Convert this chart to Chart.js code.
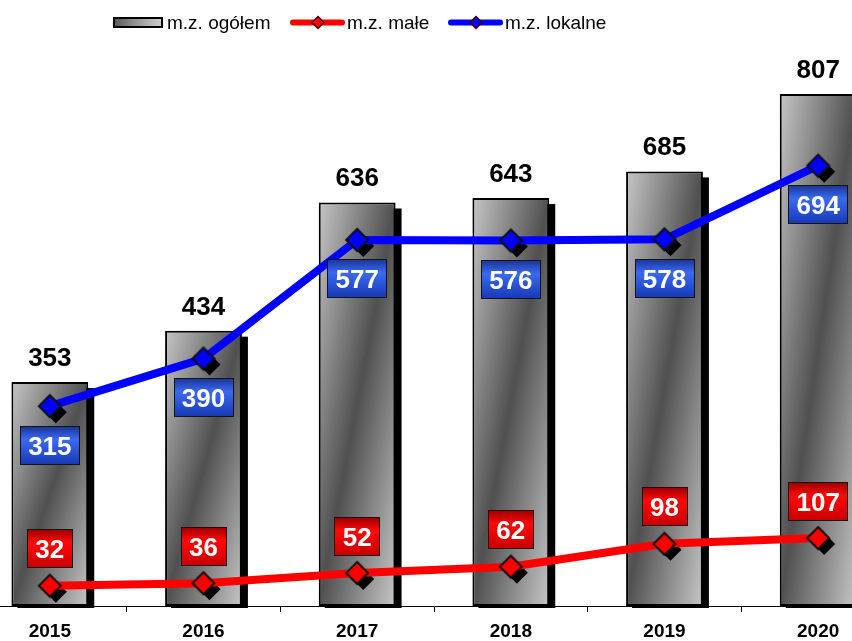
<!DOCTYPE html>
<html>
<head>
<meta charset="utf-8">
<script src="https://cdn.jsdelivr.net/npm/chart.js@4/dist/chart.umd.min.js"></script>
<style>
    html, body { margin: 0; padding: 0; background: #fff; overflow: hidden; }
    body { width: 852px; height: 641px; position: relative; }
    #wrap { position: absolute; left: -27px; top: 0; width: 922px; height: 641px; }
</style>
</head>
<body>
<div id="wrap"><canvas id="chart" width="922" height="641"></canvas></div>
<script>
// Data
const years = ['2015', '2016', '2017', '2018', '2019', '2020'];
const totalValues = [353, 434, 636, 643, 685, 807];
const smallValues = [32, 36, 52, 62, 98, 107];
const localValues = [315, 390, 577, 576, 578, 694];
const seriesNames = ['m.z. ogółem', 'm.z. małe', 'm.z. lokalne'];

// canvas sits 27px left of the page (first category is cut off)
const PAGE_SHIFT = 27;
const FONT = '"Liberation Sans", Arial, sans-serif';

// Diagonal grey gradient for each bar (light corners, dark diagonal)
function barFill(c) {
    const chart = c.chart;
    const area = chart.chartArea;
    if (!area || c.type !== 'data') return '#808080';
    const xs = chart.scales.x, ys = chart.scales.y;
    const w = area.width / years.length * 0.5;
    const x0 = xs.getPixelForValue(c.dataIndex) - w / 2;
    const y0 = ys.getPixelForValue(c.raw);
    const h = Math.max(area.bottom - y0, 1);
    const s = 2 * w * h / (h * h + w * w);
    const g = chart.ctx.createLinearGradient(x0, y0, x0 + s * h, y0 + s * w);
    g.addColorStop(0, '#c6c6c6');
    g.addColorStop(0.5, '#505050');
    g.addColorStop(1, '#c6c6c6');
    return g;
}

function diamondPath(ctx, cx, cy, r) {
    ctx.beginPath();
    ctx.moveTo(cx, cy - r);
    ctx.lineTo(cx + r, cy);
    ctx.lineTo(cx, cy + r);
    ctx.lineTo(cx - r, cy);
    ctx.closePath();
}

// Marker image used as pointStyle
function makeMarker(color, r) {
    const size = Math.ceil(2 * r + 6);
    const cv = document.createElement('canvas');
    cv.width = cv.height = size;
    const g = cv.getContext('2d');
    diamondPath(g, size / 2, size / 2, r);
    g.fillStyle = color;
    g.fill();
    g.lineWidth = 2;
    g.strokeStyle = '#111';
    g.stroke();
    return cv;
}

const redMarker = makeMarker('#ff0000', 11);
const blueMarker = makeMarker('#0000ff', 11);

// Shadows: black offset shapes drawn under bars and markers
const shadowPlugin = {
    id: 'shadows',
    beforeDatasetDraw(chart, args) {
        const ctx = chart.ctx;
        ctx.save();
        ctx.fillStyle = '#000';
        if (args.index === 0) {
            args.meta.data.forEach(bar => {
                const left = bar.x - bar.width / 2 + 6;
                ctx.fillRect(left, bar.y + 6, bar.width, bar.base - bar.y - 4);
            });
        } else {
            args.meta.data.forEach(pt => {
                diamondPath(ctx, pt.x + 6, pt.y + 6, 11);
                ctx.fill();
            });
        }
        ctx.restore();
    }
};

function drawTag(ctx, x, y, text, stops) {
    ctx.font = 'bold 26px ' + FONT;
    const w = Math.round(ctx.measureText(text).width + 17);
    const h = 39;
    const x0 = Math.round(x - w / 2), y0 = Math.round(y - h / 2);
    const g = ctx.createLinearGradient(0, y0, 0, y0 + h);
    stops.forEach(s => g.addColorStop(s[0], s[1]));
    ctx.fillStyle = g;
    ctx.fillRect(x0, y0, w, h);
    ctx.lineWidth = 1;
    ctx.strokeStyle = '#141414';
    ctx.strokeRect(x0 + 0.5, y0 + 0.5, w - 1, h - 1);
    ctx.fillStyle = '#fff';
    ctx.textAlign = 'center';
    ctx.textBaseline = 'alphabetic';
    ctx.fillText(text, x, y + 9.5);
}

const BLUE_STOPS = [[0, '#1a3296'], [0.35, '#3a6af0'], [1, '#1638b4']];
const RED_STOPS = [[0, '#9a0000'], [0.35, '#ff0808'], [1, '#c80000']];

// Value labels: above bars, tags under blue markers, tags over red markers
const labelPlugin = {
    id: 'valueLabels',
    afterDatasetsDraw(chart) {
        const ctx = chart.ctx;
        ctx.save();
        chart.getDatasetMeta(0).data.forEach((bar, i) => {
            ctx.font = 'bold 26px ' + FONT;
            ctx.fillStyle = '#000';
            ctx.textAlign = 'center';
            ctx.textBaseline = 'alphabetic';
            ctx.fillText(String(totalValues[i]), bar.x, bar.y - 16);
        });
        chart.getDatasetMeta(1).data.forEach((pt, i) => {
            drawTag(ctx, pt.x, pt.y - 37, String(smallValues[i]), RED_STOPS);
        });
        chart.getDatasetMeta(2).data.forEach((pt, i) => {
            drawTag(ctx, pt.x, pt.y + 39, String(localValues[i]), BLUE_STOPS);
        });
        ctx.restore();
    }
};

// Legend drawn by hand to match the original swatches
const legendPlugin = {
    id: 'customLegend',
    afterDraw(chart) {
        const ctx = chart.ctx;
        const sx = PAGE_SHIFT;
        ctx.save();
        // bar swatch
        const g = ctx.createLinearGradient(sx + 113, 0, sx + 163, 0);
        g.addColorStop(0, '#555');
        g.addColorStop(0.5, '#999');
        g.addColorStop(1, '#d0d0d0');
        ctx.fillStyle = g;
        ctx.fillRect(sx + 114, 18, 48, 9);
        ctx.lineWidth = 2;
        ctx.strokeStyle = '#000';
        ctx.strokeRect(sx + 114, 18, 48, 9);
        // line swatches
        [[290, '#ff0000'], [448, '#0000ff']].forEach(([x, color]) => {
            ctx.beginPath();
            ctx.moveTo(sx + x + 3, 22.5);
            ctx.lineTo(sx + x + 52, 22.5);
            ctx.lineWidth = 6;
            ctx.lineCap = 'round';
            ctx.strokeStyle = color;
            ctx.stroke();
            diamondPath(ctx, sx + x + 28, 22.5, 6);
            ctx.fillStyle = color;
            ctx.fill();
            ctx.lineWidth = 1.5;
            ctx.strokeStyle = '#400';
            ctx.stroke();
        });
        ctx.font = '19px ' + FONT;
        ctx.fillStyle = '#000';
        ctx.textAlign = 'left';
        ctx.textBaseline = 'alphabetic';
        ctx.fillText(seriesNames[0], sx + 167, 29);
        ctx.fillText(seriesNames[1], sx + 347, 29);
        ctx.fillText(seriesNames[2], sx + 505, 29);
        ctx.restore();
    }
};

new Chart(document.getElementById('chart').getContext('2d'), {
    data: {
        labels: years,
        datasets: [
            {
                type: 'bar',
                label: seriesNames[0],
                data: totalValues,
                backgroundColor: barFill,
                borderColor: '#000',
                borderWidth: 2,
                borderSkipped: false,
                barPercentage: 0.5,
                categoryPercentage: 1,
                clip: false,
                order: 3
            },
            {
                type: 'line',
                label: seriesNames[1],
                data: smallValues,
                borderColor: '#ff0000',
                borderWidth: 8,
                tension: 0,
                pointStyle: redMarker,
                pointRadius: 12,
                clip: false,
                order: 2
            },
            {
                type: 'line',
                label: seriesNames[2],
                data: localValues,
                borderColor: '#0000ff',
                borderWidth: 8,
                tension: 0,
                pointStyle: blueMarker,
                pointRadius: 12,
                clip: false,
                order: 1
            }
        ]
    },
    options: {
        responsive: false,
        animation: false,
        devicePixelRatio: 1,
        layout: { autoPadding: false, padding: { top: 35, left: 0, right: 0, bottom: 0 } },
        plugins: {
            legend: { display: false },
            tooltip: { enabled: false }
        },
        scales: {
            x: {
                offset: true,
                grid: { display: true, drawOnChartArea: false, tickLength: 6, color: '#000', offset: true },
                border: { display: true, color: '#000', width: 1 },
                ticks: { color: '#000', padding: 8, font: { family: FONT, size: 19, weight: 'bold' } },
                afterFit(scale) { scale.height = 35; }
            },
            y: {
                display: false,
                min: 0,
                max: 900
            }
        }
    },
    plugins: [shadowPlugin, labelPlugin, legendPlugin]
});
</script>
</body>
</html>
